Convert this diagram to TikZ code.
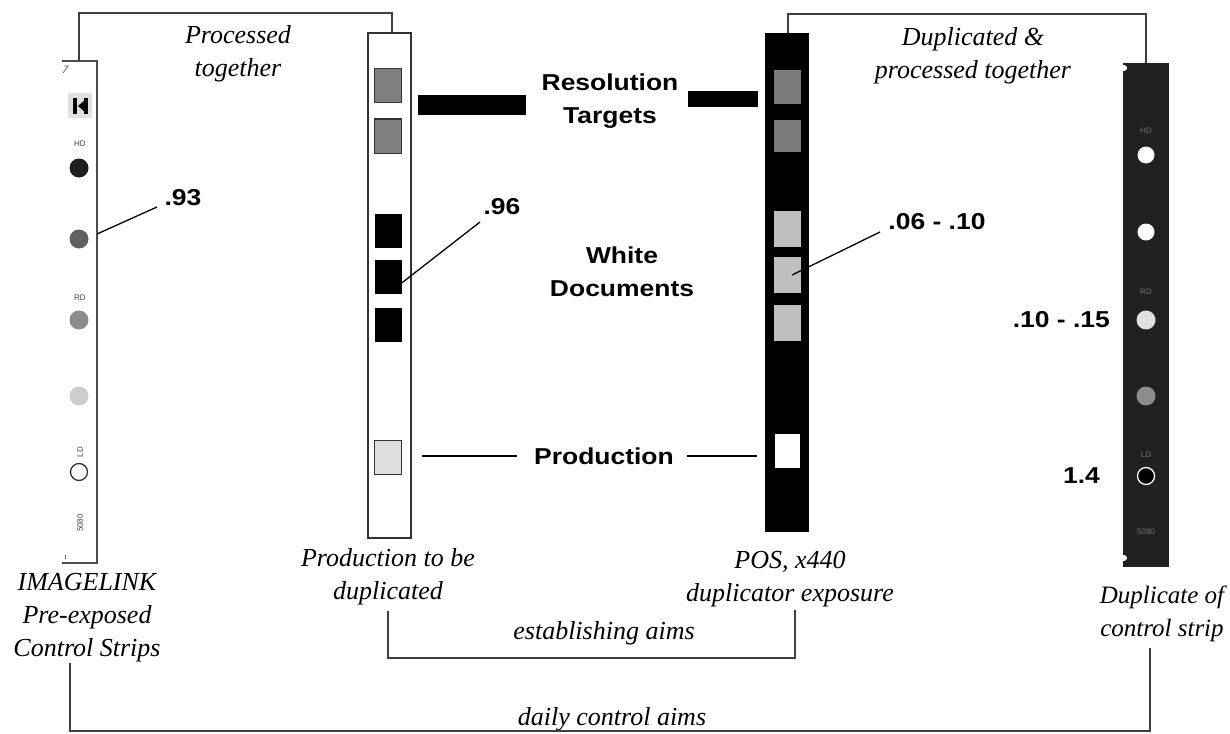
\documentclass[tikz,border=0pt]{standalone}
\usepackage{fontspec}
\setmainfont{Liberation Serif}
\setsansfont{Liberation Sans}
\newfontfamily\boldlab[FakeStretch=1.15]{Liberation Sans}
\begin{document}
\begin{tikzpicture}[x=1pt,y=-1pt,
  ital/.style={font=\fontsize{26}{33}\selectfont\itshape, align=center, inner sep=0pt},
  bold/.style={font=\fontsize{23}{33}\selectfont\boldlab\bfseries, align=center, inner sep=0pt},
  tiny/.style={font=\fontsize{8}{8}\selectfont\sffamily, inner sep=0pt},
  brk/.style={line width=1.2pt, draw=black!75},
  lead/.style={line width=1.3pt},
  sq/.style={draw=black!80, line width=1pt, minimum width=27pt, minimum height=34pt, inner sep=0pt},
  bsq/.style={minimum width=27pt, minimum height=34pt, inner sep=0pt},
  dot/.style={circle, minimum size=19pt, inner sep=0pt}]
\useasboundingbox (0,0) rectangle (1230,733);

% ---------- left strip (IMAGELINK) ----------
\draw[line width=1.5pt, draw=black!70] (62,61) -- (97,61) -- (97,563) -- (62,563);
\draw[line width=0.8pt, draw=black!60] (64,66) -- (68,66) -- (63,73);
\draw[line width=0.6pt, draw=black!60] (65,555) -- (65,559);
\node[fill=black!12, minimum width=24pt, minimum height=25pt, inner sep=0pt] (icon) at (80,106) {};
\fill[black] (73,98) rectangle (77,114);
\fill[black] (78,106) -- (87,98) -- (87,114) -- cycle;
\fill[black] (84,98) rectangle (88,114);
\node[tiny, text=black!75] (hdL) at (80,144) {HD};
\node[dot, fill=black!88] (l1) at (79,168) {};
\node[dot, fill=black!62] (l2) at (79,239) {};
\node[tiny, text=black!75] (rdL) at (80,298) {RD};
\node[dot, fill=black!45] (l3) at (79,320) {};
\node[dot, fill=black!20] (l4) at (79,396) {};
\node[tiny, rotate=90, text=black!75] (ldL) at (80,452) {LD};
\node[dot, draw=black!80, line width=1.3pt, minimum size=17pt] (l5) at (79,472) {};
\node[tiny, rotate=90, text=black!75] (nL) at (80,523) {5080};
\coordinate (lp93) at (97,234);

% ---------- production strip ----------
\node[draw=black!80, line width=1.3pt, minimum width=43pt, minimum height=505pt, inner sep=0pt] (prod) at (389.5,285.5) {};
\node[sq, fill=black!50] (p1) at (388,86) {};
\node[sq, fill=black!50] (p2) at (388,136) {};
\node[bsq, fill=black] (p3) at (388,231) {};
\node[bsq, fill=black] (p4) at (388,277) {};
\node[bsq, fill=black] (p5) at (388,325) {};
\node[sq, fill=black!13] (p6) at (388,457) {};

% ---------- POS strip ----------
\node[fill=black, minimum width=44pt, minimum height=499pt, inner sep=0pt] (pos) at (787,282.5) {};
\node[bsq, fill=black!52] (q1) at (787,87) {};
\node[bsq, fill=black!52, minimum height=32pt] (q2) at (787,136) {};
\node[bsq, fill=black!25, minimum height=36pt] (q3) at (787,229) {};
\node[bsq, fill=black!25, minimum height=36pt] (q4) at (787,275) {};
\node[bsq, fill=black!25, minimum height=36pt] (q5) at (787,323) {};
\node[bsq, fill=white, minimum width=25pt] (q6) at (787,451) {};

% ---------- duplicate strip ----------
\node[fill=black!87, minimum width=46pt, minimum height=504pt, inner sep=0pt] (dup) at (1146,315) {};
\fill[white] (1124,68) circle (3pt);
\fill[white] (1124,558) circle (3pt);
\node[tiny, text=black!55] (hdR) at (1146,131) {HD};
\node[dot, fill=white, minimum size=17pt] (d1) at (1146,155) {};
\node[dot, fill=white, minimum size=17pt] (d2) at (1146,232) {};
\node[tiny, text=black!55] (rdR) at (1146,292) {RD};
\node[dot, fill=black!12] (d3) at (1146,320) {};
\node[dot, fill=black!45] (d4) at (1146,396) {};
\node[tiny, text=black!55] (ldR) at (1146,455) {LD};
\node[dot, fill=black, draw=white, line width=1.3pt, minimum size=17pt] (d5) at (1146,476) {};
\node[tiny, text=black!55] (nR) at (1146,532) {5080};

% ---------- centre labels ----------
\node[bold] (res) at (610,101) {Resolution\\Targets};
\node[fill=black, minimum width=108pt, minimum height=20pt, inner sep=0pt] (barL) at (472,105) {};
\node[fill=black, minimum width=70pt, minimum height=16pt, inner sep=0pt] (barR) at (723,99) {};
\node[bold] (white) at (622,272) {White\\Documents};
\node[bold] (prodlbl) at (604,456) {Production};
\coordinate (pa) at (422,456);
\coordinate (pb) at (757,456);
\draw[lead] (pa) -- ([xshift=-17pt]prodlbl.west);
\draw[lead] ([xshift=13pt]prodlbl.east) -- (pb);

% ---------- value labels ----------
\node[bold] (v93) at (183,198) {.93};
\draw[lead] (lp93) -- (157,207);
\node[bold] (v96) at (502,207) {.96};
\draw[lead] ([yshift=-6pt]p4.east) -- (480,222);
\node[bold] (v06) at (937,222) {.06 - .10};
\draw[lead] ([xshift=5pt]q4.center) -- (880,232);
\node[bold, anchor=east] (v10) at (1110,320) {.10 - .15};
\node[bold, anchor=east] (v14) at (1100,476) {1.4};

% ---------- italic captions ----------
\node[ital] (proc) at (238,54) {Processed\\together};
\node[ital] (dupt) at (973,56) {Duplicated \&\\processed together};
\node[ital] (capL) at (87,618) {IMAGELINK\\Pre-exposed\\Control Strips};
\node[ital] (capP) at (388,577) {Production to be\\duplicated};
\node[ital] (capQ) at (790,579) {POS, x440\\duplicator exposure};
\node[ital, font=\fontsize{25}{33}\selectfont\itshape] (capD) at (1162,614) {Duplicate of\\control strip};
\node[ital] (est) at (604,633) {establishing aims};
\node[ital] (daily) at (612,719) {daily control aims};

% ---------- brackets ----------
\draw[brk] (79,61) -- (79,13) -- (392,13) -- (prod.north -| 392,0);
\draw[brk] ([xshift=1pt]pos.north) -- (788,14) -- (1146,14) -- (dup.north);
\draw[brk] (388,611) -- (388,658) -- (795,658) -- (795,610);
\draw[brk] (70,663) -- (70,731) -- (1150,731) -- (1150,648);
\end{tikzpicture}
\end{document}
